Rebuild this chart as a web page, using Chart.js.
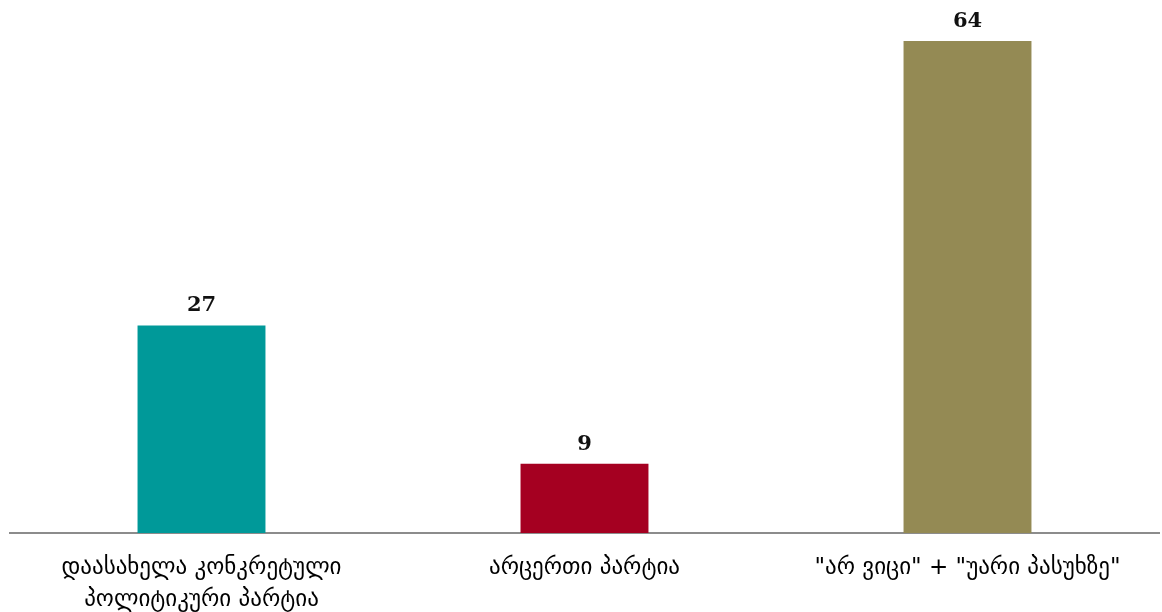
<!DOCTYPE html>
<html><head><meta charset="utf-8">
<script src="https://cdn.jsdelivr.net/npm/chart.js@4.4.1/dist/chart.umd.min.js"></script>
<style>html,body{margin:0;padding:0;background:#fff;}#wrap{width:1162px;height:612px;}</style>
</head><body><div id="wrap"><canvas id="c" width="1162" height="612"></canvas></div>
<script>
const categories = [["დაასახელა კონკრეტული","პოლიტიკური პარტია"],"არცერთი პარტია","\"არ ვიცი\" + \"უარი პასუხზე\""];
const values = [27, 9, 64];
const colors = ["#009999", "#A50021", "#948A54"];

const labelPlugin = {
  id: 'vals',
  afterDatasetsDraw(chart) {
    const ctx = chart.ctx;
    const meta = chart.getDatasetMeta(0);
    ctx.save();
    ctx.font = 'bold 21px "DejaVu Serif"';
    ctx.fillStyle = '#111';
    ctx.textAlign = 'center';
    ctx.textBaseline = 'bottom';
    meta.data.forEach((bar, i) => {
      ctx.fillText(String(values[i]), bar.x, bar.y - 9);
    });
    ctx.restore();
  }
};

new Chart(document.getElementById('c'), {
  type: 'bar',
  data: { labels: categories, datasets: [{ data: values, backgroundColor: colors, barPercentage: 1, categoryPercentage: 0.334 }] },
  options: {
    responsive: false, animation: false,
    layout: { padding: { left: 10, right: 3, top: 41, bottom: 0 } },
    plugins: { legend: { display: false }, tooltip: { enabled: false } },
    scales: {
      x: {
        grid: { display: false, drawTicks: false },
        border: { display: true, color: '#8c8c8c', width: 2 },
        ticks: { color: '#000', font: { family: '"DejaVu Sans"', size: 23, lineHeight: 1.4 }, padding: 19, maxRotation: 0, autoSkip: false },
        afterFit(scale) { scale.height = 79; }
      },
      y: { display: false, min: 0, max: 64 }
    }
  },
  plugins: [labelPlugin]
});
</script></body></html>
